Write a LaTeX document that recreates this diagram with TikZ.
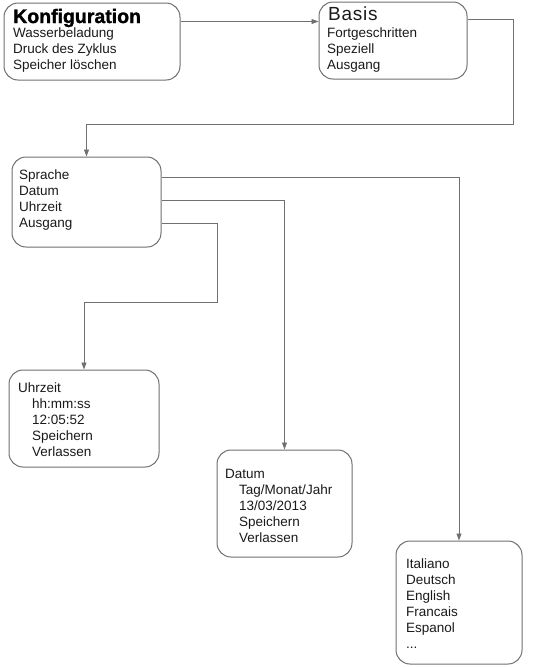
\documentclass[tikz,border=0pt]{standalone}
\usepackage{fontspec}
\setmainfont{Liberation Sans}
\usetikzlibrary{arrows.meta}
\definecolor{linegray}{HTML}{707070}
\definecolor{boxgray}{HTML}{707070}
\definecolor{txt}{HTML}{1A1A1A}
\newcommand\mylines[1]{\begin{tabular}[t]{@{}l@{}}#1\end{tabular}}
\newcommand\ind{\hspace*{14pt}}
\begin{document}
\begin{tikzpicture}[x=1pt,y=-1pt,
  box/.style={draw=boxgray,line width=1pt,rounded corners=14pt,inner sep=0pt,fill=white},
  txtnode/.style={anchor=base west,inner sep=0pt,text=txt,font=\fontsize{13.5}{16}\selectfont},
  conn/.style={draw=linegray,line width=0.9pt},
  arr/.style={conn,-{Triangle[length=7pt,width=5pt]}}]
\useasboundingbox (0,0) rectangle (553,667);
% boxes
\node[box,minimum width=176pt,minimum height=77pt] (konf) at (92,41.5) {};
\node[box,minimum width=148pt,minimum height=77pt] (basis) at (393,40.5) {};
\node[box,minimum width=149pt,minimum height=90pt] (sprache) at (86.5,202) {};
\node[box,minimum width=150pt,minimum height=97pt] (uhr) at (84,418.5) {};
\node[box,minimum width=135pt,minimum height=107pt] (datum) at (284.5,503.5) {};
\node[box,minimum width=126pt,minimum height=123pt] (ital) at (459,602.5) {};
% texts
\node[anchor=base west,inner sep=0pt,text=black,font=\fontsize{19.5}{20}\selectfont\bfseries\addfontfeature{FakeBold=1.5}] (t1) at (13,23) {Konfiguration};
\node[txtnode] (t1b) at (13,37) {\mylines{Wasserbeladung\\Druck des Zyklus\\Speicher löschen}};
\node[anchor=base west,inner sep=0pt,text=txt,font=\fontsize{19}{20}\selectfont\addfontfeature{LetterSpace=4}] (t2) at (328,20) {Basis};
\node[txtnode] (t2b) at (327,37) {\mylines{Fortgeschritten\\Speziell\\Ausgang}};
\node[txtnode] (t3) at (19,179) {\mylines{Sprache\\Datum\\Uhrzeit\\Ausgang}};
\node[txtnode] (t4) at (18,392) {\mylines{Uhrzeit\\\ind hh:mm:ss\\\ind 12:05:52\\\ind Speichern\\\ind Verlassen}};
\node[txtnode] (t5) at (225,478) {\mylines{Datum\\\ind Tag/Monat/Jahr\\\ind 13/03/2013\\\ind Speichern\\\ind Verlassen}};
\node[txtnode] (t6) at (406,568) {\mylines{Italiano\\Deutsch\\English\\Francais\\Espanol\\...}};
% connectors
\coordinate (c1) at (513,124);
\coordinate (c2) at (217,302);
\draw[arr] ([yshift=-19pt]konf.north east) -- ([yshift=-20pt]basis.north west);
\draw[arr] ([yshift=-18pt]basis.north east) -| (c1) -| (sprache.north);
\draw[arr] ([yshift=-21pt]sprache.north east) -| (ital.north);
\draw[arr] ([yshift=-44pt]sprache.north east) -| (datum.north);
\draw[arr] ([yshift=-67pt]sprache.north east) -| (c2) -| (uhr.north);
\end{tikzpicture}
\end{document}
